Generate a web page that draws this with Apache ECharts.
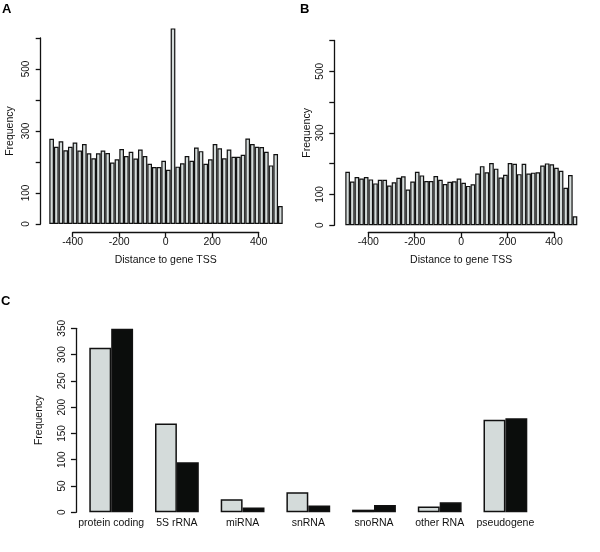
<!DOCTYPE html>
<html>
<head>
<meta charset="utf-8">
<script src="https://cdn.jsdelivr.net/npm/echarts@6/dist/echarts.min.js"></script>
<style>
  html, body { margin: 0; padding: 0; background: #fff; }
  #chart { width: 600px; height: 552px; }
</style>
</head>
<body>
<div id="chart"></div>
<script>
  // bin starts (20 bp bins) for the two TSS histograms
  const binStarts = [-500, -480, -460, -440, -420, -400, -380, -360, -340, -320,
    -300, -280, -260, -240, -220, -200, -180, -160, -140, -120,
    -100, -80, -60, -40, -20, 0, 20, 40, 60, 80,
    100, 120, 140, 160, 180, 200, 220, 240, 260, 280,
    300, 320, 340, 360, 380, 400, 420, 440, 460, 480]

  // panel A frequencies
  const freqA = [275, 249, 267, 238, 249, 263, 237, 258, 228, 212,
    228, 237, 229, 198, 209, 242, 219, 233, 211, 240,
    219, 194, 184, 184, 204, 175, 631, 185, 196, 219,
    204, 247, 235, 194, 209, 258, 244, 212, 240, 217,
    217, 223, 276, 258, 249, 248, 233, 189, 226, 58]

  // panel B frequencies
  const freqB = [174, 142, 157, 152, 157, 149, 136, 148, 148, 129,
    140, 154, 159, 116, 142, 174, 162, 144, 144, 160,
    148, 134, 141, 143, 152, 138, 128, 133, 168, 192,
    172, 202, 184, 155, 164, 202, 200, 166, 200, 168,
    171, 172, 194, 201, 198, 187, 177, 122, 163, 29]

  const histYLabels = [0, 100, 300, 500]

  // panel C
  const rnaTypes = ['protein coding', '5S rRNA', 'miRNA', 'snRNA', 'snoRNA', 'other RNA', 'pseudogene']
  const countLight = [313, 169, 25, 38, 5, 11, 176]
  const countDark = [349, 95, 9, 13, 14, 19, 179]

  const font = 'Liberation Sans'
  const ink = '#111'
  const light = '#d4dbda'
  const dark = '#0b0d0c'

  const axisLine = { show: true, lineStyle: { color: ink, width: 1.3 } }
  const tick = { show: true, length: 5, lineStyle: { color: ink, width: 1.3 } }

  function histYAxis(gridIndex, offset, nameGap) {
    return {
      type: 'value', gridIndex: gridIndex, min: 0, max: 600, interval: 100, offset: offset,
      name: 'Frequency', nameLocation: 'middle', nameGap: nameGap,
      nameTextStyle: { fontFamily: font, fontSize: 10.5, color: ink },
      axisLine: axisLine,
      axisTick: tick,
      axisLabel: {
        rotate: 90, margin: 9, fontFamily: font, fontSize: 10, color: ink,
        formatter: v => histYLabels.indexOf(v) >= 0 ? String(v) : ''
      },
      splitLine: { show: false }
    }
  }

  function histXAxis(gridIndex) {
    return {
      type: 'value', gridIndex: gridIndex, min: -400, max: 400, interval: 200,
      name: 'Distance to gene TSS', nameLocation: 'middle', nameGap: 22,
      nameTextStyle: { fontFamily: font, fontSize: 10.5, color: ink },
      axisLine: axisLine,
      axisTick: tick,
      axisLabel: { margin: 4, fontFamily: font, fontSize: 10.5, color: ink },
      splitLine: { show: false }
    }
  }

  function histSeries(axisIndex, data) {
    return {
      type: 'bar', xAxisIndex: axisIndex, yAxisIndex: axisIndex, data: data,
      barCategoryGap: '0%', clip: false, silent: true,
      itemStyle: { color: light, borderColor: ink, borderWidth: 1.2 }
    }
  }

  const hiddenCat = (g) => ({ type: 'category', gridIndex: g, data: binStarts, show: false })
  const hiddenVal = (g) => ({ type: 'value', gridIndex: g, min: 0, max: 1, show: false })

  const option = {
    animation: false,
    textStyle: { fontFamily: font },
    grid: [
      { left: 49.3, top: 38, width: 233.4, height: 186 },
      { left: 72.7, top: 222, width: 186, height: 10.3 },
      { left: 345.3, top: 40.5, width: 232, height: 184.8 },
      { left: 368.3, top: 222, width: 185.7, height: 10.7 },
      { left: 78.35, top: 328.3, width: 459.9, height: 184 }
    ],
    xAxis: [
      hiddenCat(0),
      histXAxis(1),
      hiddenCat(2),
      histXAxis(3),
      {
        type: 'category', gridIndex: 4, data: rnaTypes,
        axisLine: { show: false }, axisTick: { show: false },
        axisLabel: { margin: 5, fontFamily: font, fontSize: 10.5, color: ink, interval: 0 }
      }
    ],
    yAxis: [
      histYAxis(0, 8.6, 25),
      hiddenVal(1),
      histYAxis(2, 11, 22),
      hiddenVal(3),
      {
        type: 'value', gridIndex: 4, min: 0, max: 350, interval: 50, offset: 2.4,
        name: 'Frequency', nameLocation: 'middle', nameGap: 31,
        nameTextStyle: { fontFamily: font, fontSize: 10.5, color: ink },
        axisLine: axisLine,
        axisTick: tick,
        axisLabel: { rotate: 90, margin: 9, fontFamily: font, fontSize: 10, color: ink },
        splitLine: { show: false }
      }
    ],
    series: [
      histSeries(0, freqA),
      histSeries(2, freqB),
      {
        type: 'bar', xAxisIndex: 4, yAxisIndex: 4, data: countLight, name: 'light',
        barWidth: 21.9, barGap: '0%', silent: true,
        itemStyle: { color: light, borderColor: ink, borderWidth: 1.5 }
      },
      {
        type: 'bar', xAxisIndex: 4, yAxisIndex: 4, data: countDark, name: 'dark',
        barWidth: 21.9, barGap: '0%', silent: true,
        itemStyle: { color: dark, borderColor: ink, borderWidth: 1.5 }
      }
    ],
    graphic: [
      { type: 'text', left: 2, top: 3, style: { text: 'A', font: 'bold 13px "Liberation Sans"', fill: '#000' } },
      { type: 'text', left: 300, top: 3, style: { text: 'B', font: 'bold 13px "Liberation Sans"', fill: '#000' } },
      { type: 'text', left: 1, top: 295, style: { text: 'C', font: 'bold 13px "Liberation Sans"', fill: '#000' } }
    ]
  }

  const chart = echarts.init(document.getElementById('chart'), null, { renderer: 'canvas' })
  chart.setOption(option)
</script>
</body>
</html>
